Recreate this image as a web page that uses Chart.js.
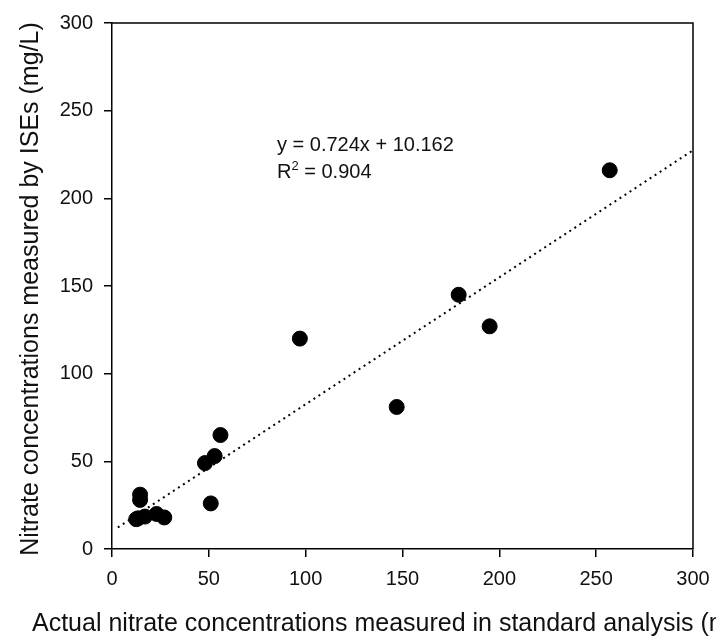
<!DOCTYPE html>
<html>
<head>
<meta charset="utf-8">
<script src="https://cdn.jsdelivr.net/npm/chart.js@4.4.1/dist/chart.umd.min.js"></script>
<style>
  html, body { margin: 0; padding: 0; background: #fff; }
  #wrap { width: 716px; height: 637px; position: relative; }
</style>
</head>
<body>
<div id="wrap"><canvas id="chart" width="716" height="637"></canvas></div>
<script>
    // ====== Data ======
    const actualNitrate = [12.5, 13.5, 17, 23, 27, 14.5, 14.5, 48, 51, 53, 56, 97, 147, 179, 195, 257];
    const iseNitrate = [17, 17.5, 18.5, 20, 18, 28, 31, 49, 26, 53, 65, 120, 81, 145, 127, 216];
    const trendX = [3, 300];
    const trendY = [12.3, 227.4];
    const tickValues = [0, 50, 100, 150, 200, 250, 300];

    const FONT = "'Liberation Sans', Arial, sans-serif";

    const scatterPoints = actualNitrate.map((x, i) => ({ x, y: iseNitrate[i] }));
    const trendPoints = trendX.map((x, i) => ({ x, y: trendY[i] }));

    // ====== Plugin: frame, titles, equation ======
    const decorations = {
        id: "decorations",
        afterDraw(chart) {
            const { ctx, chartArea } = chart;
            ctx.save();
            // top and right frame lines
            ctx.strokeStyle = "#000";
            ctx.lineWidth = 1.5;
            ctx.beginPath();
            ctx.moveTo(chartArea.left, chartArea.top);
            ctx.lineTo(chartArea.right, chartArea.top);
            ctx.lineTo(chartArea.right, chartArea.bottom);
            ctx.stroke();

            ctx.fillStyle = "#111";
            // x title (cut off at the page edge like the original)
            ctx.font = `25px ${FONT}`;
            ctx.textAlign = "left";
            ctx.textBaseline = "alphabetic";
            ctx.fillText("Actual nitrate concentrations measured in standard analysis (mg/L)", 32, 631);

            // y title
            ctx.translate(38, (chartArea.top + chartArea.bottom) / 2 + 3);
            ctx.rotate(-Math.PI / 2);
            ctx.textAlign = "center";
            ctx.fillText("Nitrate concentrations measured by ISEs (mg/L)", 0, 0);
            ctx.setTransform(1, 0, 0, 1, 0, 0);

            // regression equation
            const ex = 277;
            ctx.font = `20px ${FONT}`;
            ctx.textAlign = "left";
            ctx.fillText("y = 0.724x + 10.162", ex, 151);
            ctx.fillText("R", ex, 178);
            const rw = ctx.measureText("R").width;
            ctx.font = `13px ${FONT}`;
            ctx.fillText("2", ex + rw, 170);
            const sw = ctx.measureText("2").width;
            ctx.font = `20px ${FONT}`;
            ctx.fillText(" = 0.904", ex + rw + sw, 178);
            ctx.restore();
        }
    };

    // ====== Chart ======
    const axisCommon = {
        type: "linear",
        min: 0,
        max: 300,
        border: { display: true, color: "#000", width: 1.5 },
        grid: {
            drawOnChartArea: false,
            drawTicks: true,
            tickLength: 8,
            color: "#000",
            lineWidth: 1.5
        },
        afterBuildTicks(scale) {
            scale.ticks = tickValues.map((v) => ({ value: v }));
        }
    };

    new Chart(document.getElementById("chart").getContext("2d"), {
        type: "scatter",
        data: {
            datasets: [
                {
                    label: "trend",
                    type: "line",
                    data: trendPoints,
                    borderColor: "#000",
                    borderWidth: 2,
                    borderDash: [2, 4],
                    pointRadius: 0,
                    fill: false,
                    order: 2
                },
                {
                    label: "samples",
                    data: scatterPoints,
                    backgroundColor: "#000",
                    borderColor: "#000",
                    pointRadius: 7.5,
                    order: 1
                }
            ]
        },
        options: {
            responsive: false,
            animation: false,
            layout: { padding: { top: 23, right: 23, left: 0, bottom: 0 } },
            plugins: {
                legend: { display: false },
                tooltip: { enabled: false }
            },
            scales: {
                x: Object.assign({}, axisCommon, {
                    position: "bottom",
                    ticks: { color: "#111", font: { family: FONT, size: 20 }, padding: 10 },
                    afterFit(scale) {
                        scale.height = 88;
                        scale.paddingLeft = 0;
                        scale.paddingRight = 0;
                    }
                }),
                y: Object.assign({}, axisCommon, {
                    position: "left",
                    ticks: { color: "#111", font: { family: FONT, size: 20 }, padding: 11 },
                    afterFit(scale) {
                        scale.width = 112;
                        scale.paddingTop = 0;
                        scale.paddingBottom = 0;
                    }
                })
            }
        },
        plugins: [decorations]
    });
</script>
</body>
</html>
